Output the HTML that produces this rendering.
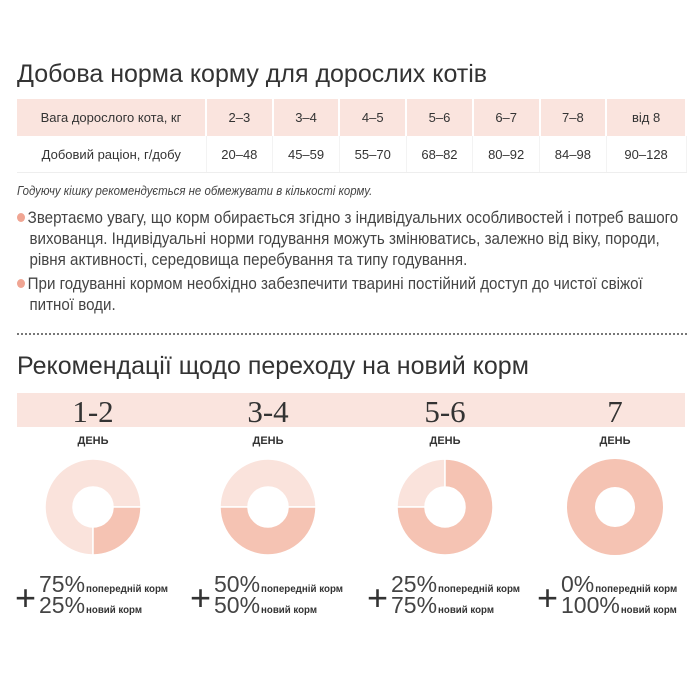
<!DOCTYPE html>
<html><head><meta charset="utf-8">
<style>
body{margin:0;background:#fff;width:700px;height:700px;overflow:hidden;font-family:"Liberation Sans",sans-serif;color:#333;position:relative}
.abs{position:absolute}
h1{position:absolute;margin:0;font-weight:normal;font-size:25px;color:#333;left:17px}
table{position:absolute;left:17px;top:99px;width:670px;border-collapse:collapse;font-size:13px}
td{text-align:center;border-right:2px solid #fff;padding:0}
tr.h td{background:#fae4de;height:37px}
tr.b td{background:#fff;height:36px;border-right:1px solid #f3f3f3;border-bottom:1px solid #eee}
.note{left:17px;font-size:13px;font-style:italic;color:#444;transform-origin:0 0;transform:scaleX(0.88);white-space:nowrap}
.p{left:17px;font-size:17px;line-height:21px;color:#444;white-space:nowrap;transform-origin:0 0;transform:scaleX(0.89)}
.dot{display:inline-block;width:9px;height:9px;border-radius:50%;background:#f0a593;margin-right:3px;vertical-align:1px}
.ind{padding-left:14px}
</style></head><body>
<h1 style="top:60px">Добова норма корму для дорослих котів</h1>
<table>
<tr class="h"><td style="width:188px">Вага дорослого кота, кг</td><td>2–3</td><td>3–4</td><td>4–5</td><td>5–6</td><td>6–7</td><td>7–8</td><td>від 8</td></tr>
<tr class="b"><td>Добовий раціон, г/добу</td><td>20–48</td><td>45–59</td><td>55–70</td><td>68–82</td><td>80–92</td><td>84–98</td><td>90–128</td></tr>
</table>
<div class="abs note" style="top:183px">Годуючу кішку рекомендується не обмежувати в кількості корму.</div>
<div class="abs p" style="top:207px"><span class="dot"></span>Звертаємо увагу, що корм обирається згідно з індивідуальних особливостей і потреб вашого<br><span class="ind">вихованця. Індивідуальні норми годування можуть змінюватись, залежно від віку, породи,</span><br><span class="ind">рівня активності, середовища перебування та типу годування.</span></div>
<div class="abs p" style="top:273px"><span class="dot"></span>При годуванні кормом необхідно забезпечити тварині постійний доступ до чистої свіжої<br><span class="ind">питної води.</span></div>
<div class="abs" style="left:17px;top:333px;width:670px;border-top:2px dotted #777"></div>
<h1 style="top:352px">Рекомендації щодо переходу на новий корм</h1>
<div class="abs" style="left:17px;top:393px;width:668px;height:34px;background:#fae4de"></div>
<svg id="chart" class="abs" style="left:0;top:0" width="700" height="700"></svg>
<script>
const days=["1-2","3-4","5-6","7"];
const prevPct=[75,50,25,0];
const newPct=[25,50,75,100];
const centers=[93,268,445,615];
const svg=document.getElementById('chart');
const NS='http://www.w3.org/2000/svg';
const cy=507,R=48,r=20;
function pt(rad,a){return [rad*Math.sin(a),-rad*Math.cos(a)];}
function arc(cx,a0,a1,fill){
  if(a1-a0>=2*Math.PI-1e-6){
    const c=document.createElementNS(NS,'path');
    c.setAttribute('d',`M${cx-R},${cy}a${R},${R} 0 1,0 ${2*R},0a${R},${R} 0 1,0 ${-2*R},0M${cx-r},${cy}a${r},${r} 0 1,1 ${2*r},0a${r},${r} 0 1,1 ${-2*r},0`);
    c.setAttribute('fill',fill);c.setAttribute('fill-rule','evenodd');return c;}
  const [x0,y0]=pt(R,a0),[x1,y1]=pt(R,a1),[x2,y2]=pt(r,a1),[x3,y3]=pt(r,a0);
  const lg=(a1-a0)>Math.PI?1:0;
  const p=document.createElementNS(NS,'path');
  p.setAttribute('d',`M${cx+x0},${cy+y0}A${R},${R} 0 ${lg},1 ${cx+x1},${cy+y1}L${cx+x2},${cy+y2}A${r},${r} 0 ${lg},0 ${cx+x3},${cy+y3}Z`);
  p.setAttribute('fill',fill);p.setAttribute('stroke','#fff');p.setAttribute('stroke-width','1.5');return p;
}
function txt(x,y,s,size,fam,anchor,fill,weight){
  const t=document.createElementNS(NS,'text');
  t.setAttribute('x',x);t.setAttribute('y',y);t.setAttribute('font-size',size);
  t.setAttribute('font-family',fam);t.setAttribute('text-anchor',anchor);t.setAttribute('fill',fill);
  if(weight)t.setAttribute('font-weight',weight);t.textContent=s;svg.appendChild(t);return t;
}
days.forEach((d,i)=>{
  const cx=centers[i];
  const g=document.createElementNS(NS,'g');
  
  
  const st=newPct[i]>50?0:Math.PI/2;
  const an=newPct[i]/100*2*Math.PI;
  if(prevPct[i]>0){const s=arc(cx,st+an,st+2*Math.PI,'#fae3dc');g.appendChild(s);}
  if(newPct[i]>0){const s=arc(cx,st,st+an,'#f5c3b3');g.appendChild(s);}
  svg.appendChild(g);
  const l=txt(cx,422,d,31,'"Liberation Serif",serif','middle','#333');
  
  const dl=txt(cx,444,'ДЕНЬ',11,'"Liberation Sans",sans-serif','middle','#333','bold');
  
  const plus=txt(cx-78,610,'+',36,'"Liberation Sans",sans-serif','start','#333');
  
  const a=txt(cx-54,592,prevPct[i]+'%',23,'"Liberation Sans",sans-serif','start','#444');
  
  const w1=a.getComputedTextLength();
  const al=txt(cx-54+w1+1,592,'попередній корм',10.5,'"Liberation Sans",sans-serif','start','#333','bold');
  al.setAttribute('textLength',Math.round(82));al.setAttribute('lengthAdjust','spacingAndGlyphs');
  
  const b=txt(cx-54,613,newPct[i]+'%',23,'"Liberation Sans",sans-serif','start','#444');
  
  const w2=b.getComputedTextLength();
  const bl=txt(cx-54+w2+1,613,'новий корм',10.5,'"Liberation Sans",sans-serif','start','#333','bold');
  bl.setAttribute('textLength',Math.round(56));bl.setAttribute('lengthAdjust','spacingAndGlyphs');
  
});
</script>
</body></html>
